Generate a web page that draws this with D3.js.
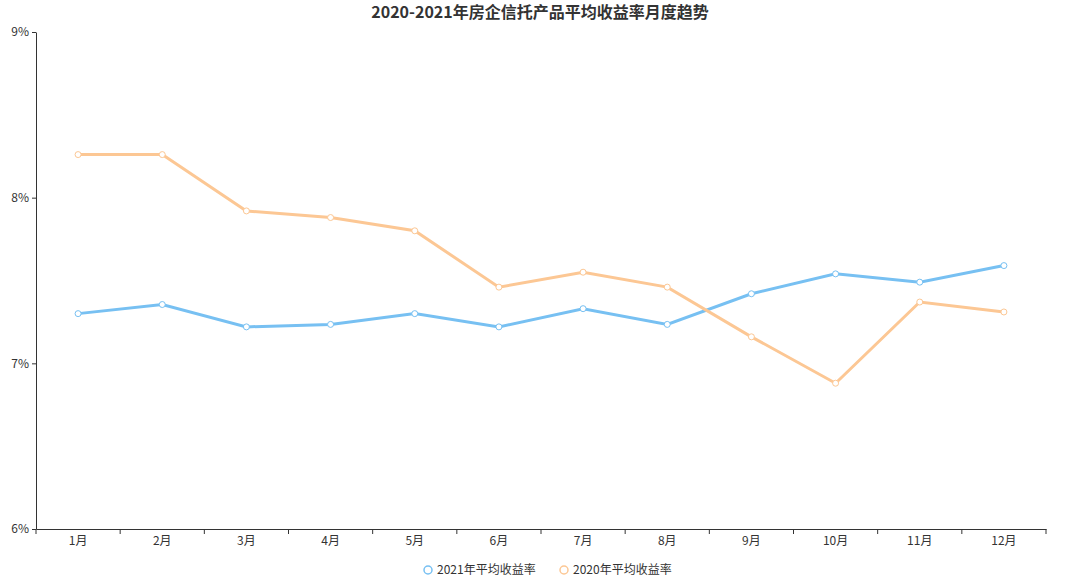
<!DOCTYPE html>
<html><head><meta charset="utf-8">
<script src="https://cdn.jsdelivr.net/npm/d3@7/dist/d3.min.js"></script>
<style>body{margin:0;background:#fff;font-family:"Noto Sans CJK SC","Noto Sans",sans-serif;}</style>
</head><body><svg id="c" width="1080" height="580"></svg>
<script>
const categories=["1月","2月","3月","4月","5月","6月","7月","8月","9月","10月","11月","12月"];
const series2021=[7.30,7.355,7.22,7.235,7.30,7.22,7.33,7.235,7.42,7.54,7.49,7.59];
const series2020=[8.26,8.26,7.92,7.88,7.80,7.46,7.55,7.46,7.16,6.88,7.37,7.31];
const yTicks=[6,7,8,9];
const names=["2021年平均收益率","2020年平均收益率"];
const colors=["#77c0f2","#fcc794"];
const svg=d3.select("#c");
const x=d3.scaleBand().domain(categories).range([36,1046]);
const y=d3.scaleLinear().domain([6,9]).range([529,32]);
svg.append("text").attr("x",540).attr("y",18).attr("text-anchor","middle").attr("font-size",16).attr("font-weight","bold").attr("fill","#333").text("2020-2021年房企信托产品平均收益率月度趋势");
const ya=svg.append("g").attr("transform","translate(36,0)").call(d3.axisLeft(y).tickValues(yTicks).tickFormat(d=>d+"%").tickSize(4).tickSizeOuter(0));
const xa=svg.append("g").attr("transform","translate(0,529)").call(d3.axisBottom(x).tickSize(0));
xa.selectAll(".tick text").attr("dy","1.1em");
xa.selectAll(".bt").data(categories.concat(["end"])).enter().append("line").attr("x1",(d,i)=>36+i*x.step()).attr("x2",(d,i)=>36+i*x.step()).attr("y1",0).attr("y2",5).attr("stroke","#333");
[ya,xa].forEach(a=>{a.selectAll("text").attr("font-size",12).attr("fill","#333").attr("font-family","'Noto Sans CJK SC',sans-serif");a.selectAll("path,line").attr("stroke","#333");});
const cx=d=>x(d)+x.bandwidth()/2;
[series2021,series2020].forEach((s,k)=>{
 const line=d3.line().x((d,i)=>cx(categories[i])).y(d=>y(d));
 svg.append("path").datum(s).attr("d",line).attr("fill","none").attr("stroke",colors[k]).attr("stroke-width",3);
 svg.selectAll(".p"+k).data(s).enter().append("circle").attr("cx",(d,i)=>cx(categories[i])).attr("cy",d=>y(d)).attr("r",3).attr("fill","#fff").attr("stroke",colors[k]).attr("stroke-width",1);
});
const lg=[[428,names[0]],[564,names[1]]];
lg.forEach((l,k)=>{
 svg.append("circle").attr("cx",l[0]).attr("cy",570).attr("r",4).attr("fill","#fff").attr("stroke",colors[k]).attr("stroke-width",1.5);
 svg.append("text").attr("x",l[0]+9).attr("y",574).attr("font-size",12).attr("fill","#333").text(l[1]);
});
</script></body></html>
